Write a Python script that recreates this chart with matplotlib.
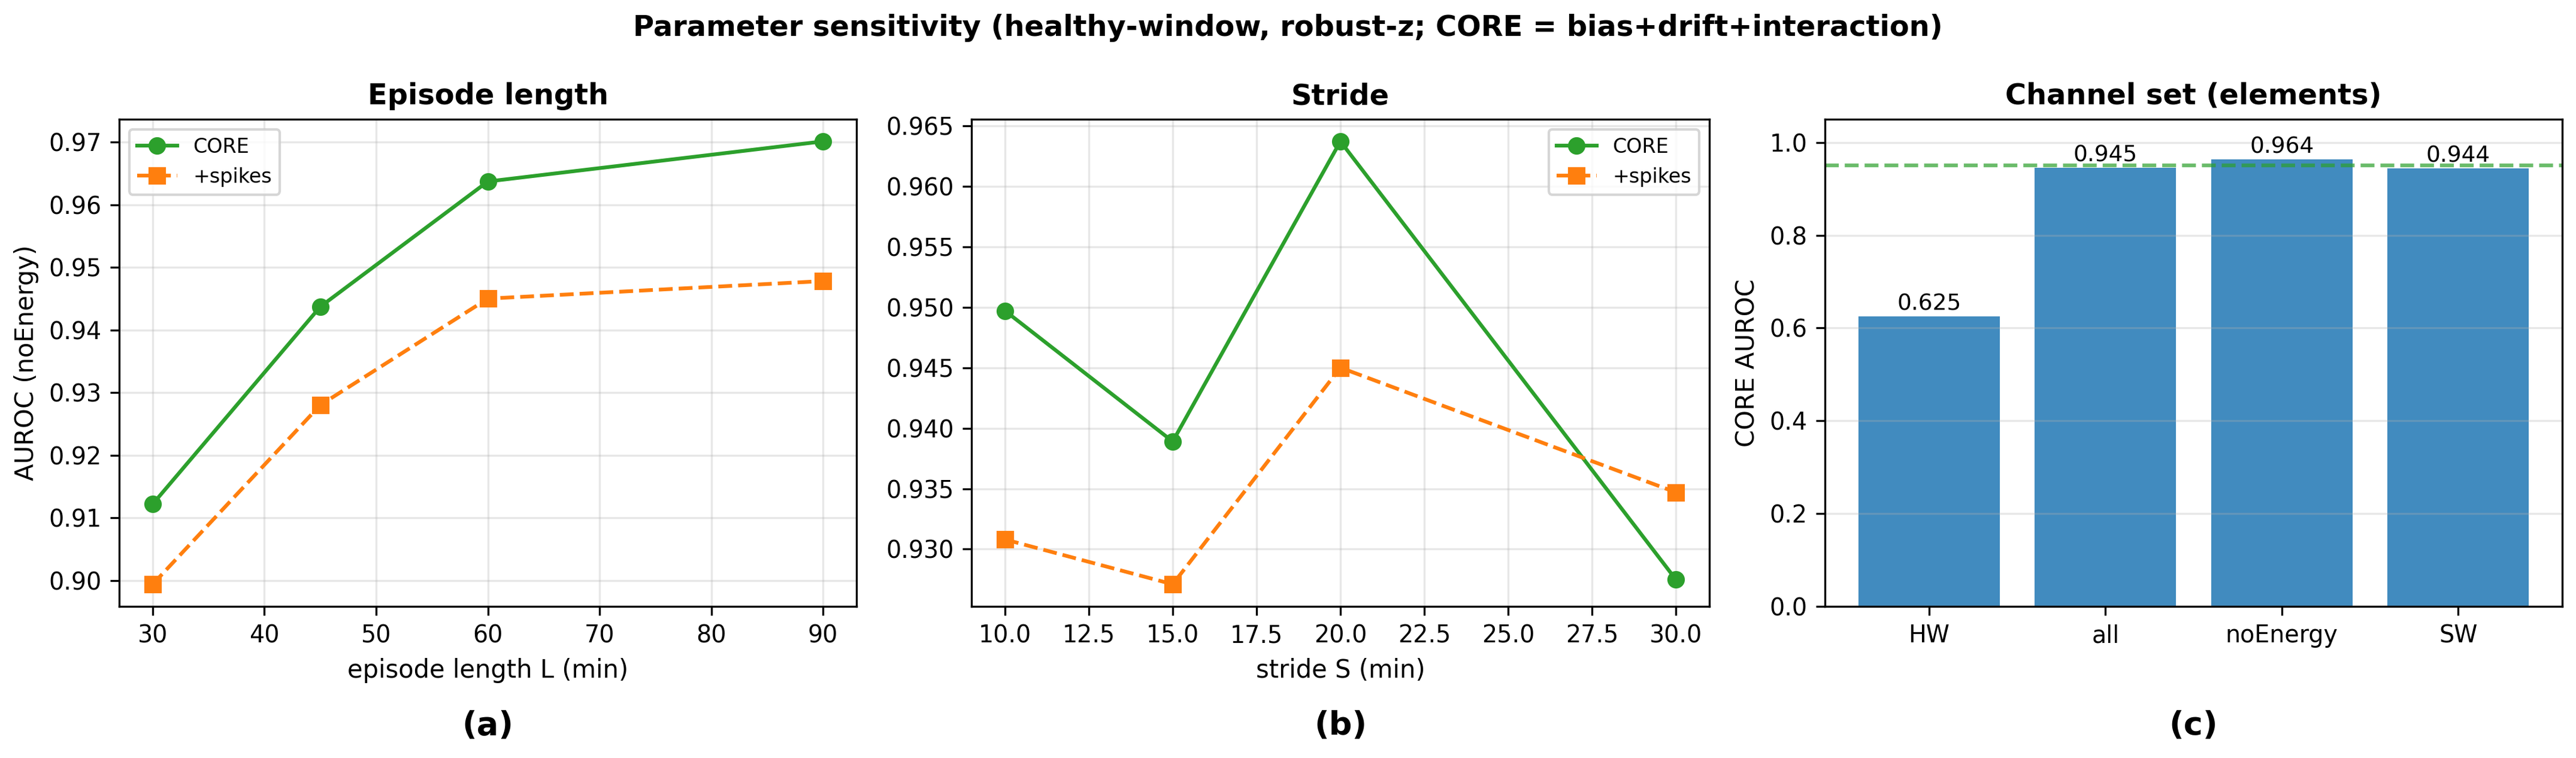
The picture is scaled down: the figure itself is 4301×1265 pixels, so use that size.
import matplotlib
matplotlib.use("Agg")
import matplotlib.pyplot as plt
import numpy as np

# ---- data ----
L_vals = [30, 45, 60, 90]
L_core = [0.9122, 0.9437, 0.9637, 0.9701]
L_spikes = [0.8994, 0.9280, 0.9450, 0.9478]

S_vals = [10, 15, 20, 30]
S_core = [0.9497, 0.9389, 0.9637, 0.9275]
S_spikes = [0.9308, 0.9271, 0.9450, 0.9347]

chan_labels = ["HW", "all", "noEnergy", "SW"]
chan_auroc = [0.625, 0.945, 0.964, 0.944]
ref_line = 0.95

W, H = 4301, 1265
fig = plt.figure(figsize=(W / 300, H / 300), dpi=300)

TICK = 9.5
LAB = 10
TITLE = 11.5

def pos(left_px, right_px, top_px=199, bottom_px=1012):
    return [left_px / W, 1 - bottom_px / H, (right_px - left_px) / W, (bottom_px - top_px) / H]

ax1 = fig.add_axes(pos(199, 1430))
ax2 = fig.add_axes(pos(1622, 2854))
ax3 = fig.add_axes(pos(3047, 4278))

# (a) episode length
ax1.plot(L_vals, L_core, "-o", color="C2", lw=1.5, ms=6, label="CORE")
ax1.plot(L_vals, L_spikes, "--s", color="C1", lw=1.5, ms=6, label="+spikes")
ax1.set_title("Episode length", fontsize=TITLE, fontweight="bold")
ax1.set_xlabel("episode length L (min)", fontsize=LAB)
ax1.set_ylabel("AUROC (noEnergy)", fontsize=LAB)
ax1.grid(True, alpha=0.3)
ax1.legend(loc="upper left", fontsize=8)

# (b) stride
ax2.plot(S_vals, S_core, "-o", color="C2", lw=1.5, ms=6, label="CORE")
ax2.plot(S_vals, S_spikes, "--s", color="C1", lw=1.5, ms=6, label="+spikes")
ax2.set_title("Stride", fontsize=TITLE, fontweight="bold")
ax2.set_xlabel("stride S (min)", fontsize=LAB)
ax2.grid(True, alpha=0.3)
ax2.legend(loc="upper right", fontsize=8)

# (c) channel set
x = np.arange(len(chan_labels))
ax3.bar(x, chan_auroc, color="C0", alpha=0.85)
for xi, v in zip(x, chan_auroc):
    ax3.text(xi, v + 0.003, f"{v:.3f}", ha="center", va="bottom", fontsize=9)
ax3.axhline(ref_line, color="C2", ls="--", lw=1.5, alpha=0.7)
ax3.set_xticks(x)
ax3.set_xticklabels(chan_labels)
ax3.set_ylim(0, 1.05)
ax3.set_title("Channel set (elements)", fontsize=TITLE, fontweight="bold")
ax3.set_ylabel("CORE AUROC", fontsize=LAB)
ax3.grid(True, axis="y", alpha=0.3)

for ax, lab in zip([ax1, ax2, ax3], ["(a)", "(b)", "(c)"]):
    ax.tick_params(labelsize=TICK)
    ax.text(0.5, -0.245, lab, transform=ax.transAxes, ha="center", va="center",
            fontsize=13, fontweight="bold")

fig.text(0.5, 1 - 47 / H, "Parameter sensitivity (healthy-window, robust-z; CORE = bias+drift+interaction)",
         ha="center", va="center", fontsize=11.5, fontweight="bold")

fig.savefig("out.png", dpi=300)
